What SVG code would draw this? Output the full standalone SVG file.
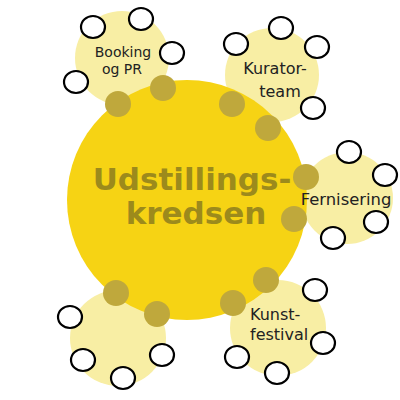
<svg xmlns="http://www.w3.org/2000/svg" width="400" height="400" viewBox="0 0 400 400">
<style>
.pale{fill:#f8eea4}
.dot{fill:#bfa83c}
.w{fill:#fff;stroke:#000;stroke-width:2.2}
.lbl{font-family:"DejaVu Sans",sans-serif;font-size:16px;fill:#222;text-anchor:middle}
.main{font-family:"DejaVu Sans",sans-serif;font-weight:bold;font-size:31px;fill:#9c8a1c;text-anchor:middle}
</style>
<rect width="400" height="400" fill="#fff"/>
<g id="pale-circles">
<circle class="pale" cx="122" cy="58" r="47"/>
<circle class="pale" cx="272" cy="75" r="47"/>
<circle class="pale" cx="347" cy="198" r="46"/>
<circle class="pale" cx="118" cy="338" r="48"/>
<circle class="pale" cx="278" cy="328" r="48"/>
</g>
<g id="center">
<circle cx="187" cy="200" r="120" fill="#f6d314"/>
<text class="main" x="192" y="190">Udstillings-</text>
<text class="main" x="196" y="224">kredsen</text>
</g>
<g id="connectors">
<circle class="dot" cx="118" cy="104" r="13"/>
<circle class="dot" cx="163" cy="88" r="13"/>
<circle class="dot" cx="232" cy="104" r="13"/>
<circle class="dot" cx="268" cy="128" r="13"/>
<circle class="dot" cx="306" cy="177" r="13"/>
<circle class="dot" cx="294" cy="219" r="13"/>
<circle class="dot" cx="116" cy="293" r="13"/>
<circle class="dot" cx="157" cy="314" r="13"/>
<circle class="dot" cx="233" cy="303" r="13"/>
<circle class="dot" cx="266" cy="280" r="13"/>
</g>
<g id="booking">
<text class="lbl" x="123" y="57" style="font-size:14px">Booking</text>
<text class="lbl" x="122" y="74" style="font-size:14px">og PR</text>
<ellipse class="w" cx="93" cy="27" rx="12" ry="11"/>
<ellipse class="w" cx="141" cy="19" rx="12" ry="11"/>
<ellipse class="w" cx="172" cy="53" rx="12" ry="11"/>
<ellipse class="w" cx="76" cy="82" rx="12" ry="11"/>
</g>
<g id="kuratorteam">
<text class="lbl" x="275" y="74">Kurator-</text>
<text class="lbl" x="280" y="97">team</text>
<ellipse class="w" cx="236" cy="44" rx="12" ry="11"/>
<ellipse class="w" cx="281" cy="28" rx="12" ry="11"/>
<ellipse class="w" cx="317" cy="47" rx="12" ry="11"/>
<ellipse class="w" cx="313" cy="108" rx="12" ry="11"/>
</g>
<g id="fernisering">
<text class="lbl" x="346" y="205" style="font-size:16.4px">Fernisering</text>
<ellipse class="w" cx="349" cy="152" rx="12" ry="11"/>
<ellipse class="w" cx="385" cy="175" rx="12" ry="11"/>
<ellipse class="w" cx="376" cy="222" rx="12" ry="11"/>
<ellipse class="w" cx="333" cy="238" rx="12" ry="11"/>
</g>
<g id="bottom-left">
<ellipse class="w" cx="70" cy="317" rx="12" ry="11"/>
<ellipse class="w" cx="83" cy="360" rx="12" ry="11"/>
<ellipse class="w" cx="123" cy="378" rx="12" ry="11"/>
<ellipse class="w" cx="162" cy="355" rx="12" ry="11"/>
</g>
<g id="kunstfestival">
<text class="lbl" x="250" y="320" style="text-anchor:start">Kunst-</text>
<text class="lbl" x="250" y="340" style="text-anchor:start">festival</text>
<ellipse class="w" cx="315" cy="290" rx="12" ry="11"/>
<ellipse class="w" cx="323" cy="343" rx="12" ry="11"/>
<ellipse class="w" cx="237" cy="357" rx="12" ry="11"/>
<ellipse class="w" cx="277" cy="373" rx="12" ry="11"/>
</g>
</svg>
